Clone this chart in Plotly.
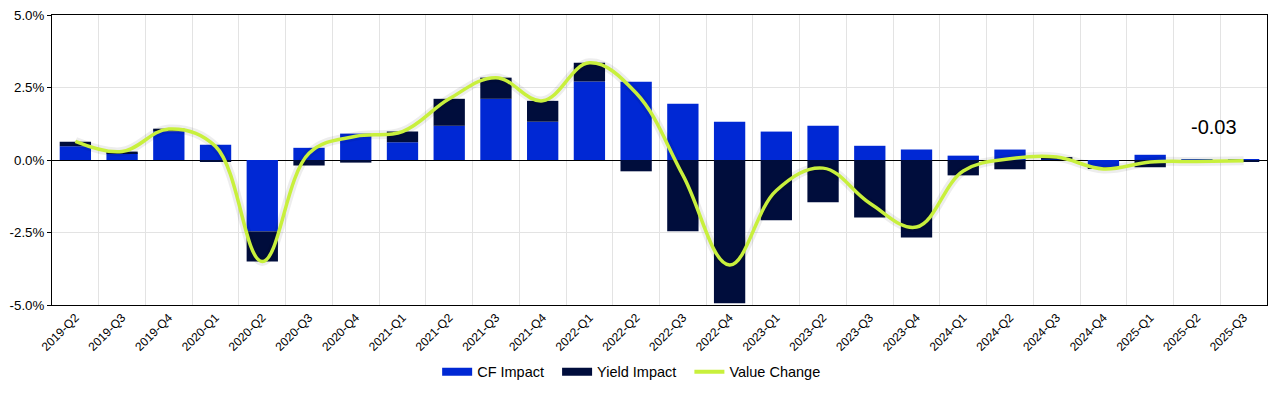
import plotly.graph_objects as go

quarters = ["2019-Q2", "2019-Q3", "2019-Q4", "2020-Q1", "2020-Q2", "2020-Q3", "2020-Q4",
            "2021-Q1", "2021-Q2", "2021-Q3", "2021-Q4", "2022-Q1", "2022-Q2", "2022-Q3",
            "2022-Q4", "2023-Q1", "2023-Q2", "2023-Q3", "2023-Q4", "2024-Q1", "2024-Q2",
            "2024-Q3", "2024-Q4", "2025-Q1", "2025-Q2", "2025-Q3"]
cf_impact = [0.47, 0.23, 0.99, 0.53, -2.46, 0.42, 0.91, 0.61, 1.18, 2.11, 1.32, 2.71, 2.70,
             1.94, 1.32, 0.98, 1.18, 0.49, 0.36, 0.15, 0.36, 0.02, -0.27, 0.18, 0.01, 0.01]
yield_impact = [0.16, 0.06, 0.09, -0.06, -1.04, -0.19, -0.09, 0.37, 0.93, 0.73, 0.72, 0.64, -0.39,
                -2.46, -4.94, -2.08, -1.46, -1.98, -2.67, -0.53, -0.32, 0.08, -0.04, -0.25, -0.06, -0.04]
value_change = [0.64, 0.29, 1.07, 0.47, -3.50, 0.23, 0.82, 0.98, 2.11, 2.84, 2.04, 3.35, 2.31,
                -0.52, -3.62, -1.05, -0.28, -1.49, -2.31, -0.38, 0.04, 0.10, -0.31, -0.07, -0.05, -0.03]
y_ticks = [-5.0, -2.5, 0.0, 2.5, 5.0]
y_tick_text = ["-5.0%", "-2.5%", "0.0%", "2.5%", "5.0%"]
last_label = "-0.03"

FONT = "Liberation Sans, Arial, sans-serif"
BLUE = "#0028D4"
NAVY = "#000D3C"
LIME = "#C8F03C"

fig = go.Figure()
fig.add_trace(go.Bar(x=quarters, y=cf_impact, name="CF Impact", showlegend=False,
                     marker=dict(color=BLUE, line=dict(width=0))))
fig.add_trace(go.Bar(x=quarters, y=yield_impact, name="Yield Impact", showlegend=False,
                     marker=dict(color=NAVY, line=dict(width=0))))
# soft shadow under the line
fig.add_trace(go.Scatter(x=quarters, y=value_change, mode="lines", showlegend=False,
                         hoverinfo="skip",
                         line=dict(color="rgba(0,0,0,0.07)", width=9, shape="spline", smoothing=1.1)))
fig.add_trace(go.Scatter(x=quarters, y=value_change, mode="lines", name="Value Change",
                         showlegend=False,
                         line=dict(color=LIME, width=3.5, shape="spline", smoothing=1.1)))

# legend entries (wide rectangle symbols like the reference)
fig.add_trace(go.Scatter(x=[None], y=[None], mode="lines", name="CF Impact\u00a0\u00a0",
                         line=dict(color=BLUE, width=8)))
fig.add_trace(go.Scatter(x=[None], y=[None], mode="lines", name="Yield Impact\u00a0\u00a0",
                         line=dict(color=NAVY, width=8)))
fig.add_trace(go.Scatter(x=[None], y=[None], mode="lines", name="Value Change",
                         line=dict(color=LIME, width=4)))

fig.add_annotation(x=0.956, y=0.614, xref="paper", yref="paper", text=last_label,
                   xanchor="center", yanchor="middle",
                   showarrow=False, font=dict(family=FONT, size=20, color="#000000"))

fig.update_layout(
    width=1283, height=394,
    margin=dict(l=52, r=16, t=15, b=89, autoexpand=False),
    barmode="relative", bargap=0.33,
    plot_bgcolor="white", paper_bgcolor="white",
    font=dict(family=FONT, size=13, color="#000000"),
    legend=dict(orientation="h", x=0.317, xanchor="left", y=-0.23, yanchor="middle",
                font=dict(family=FONT, size=14.5), traceorder="normal"),
)
fig.update_xaxes(type="category", tickson="boundaries", showgrid=True, gridcolor="#E3E3E3",
                 gridwidth=1, tickangle=-45, ticks="", tickfont=dict(size=12),
                 automargin=False,
                 showline=True, linecolor="#000000", linewidth=1, mirror=True)
fig.update_yaxes(range=[-5, 5], tickvals=y_ticks, ticktext=y_tick_text,
                 showgrid=True, gridcolor="#E3E3E3", gridwidth=1,
                 zeroline=True, zerolinecolor="#000000", zerolinewidth=1,
                 ticks="outside", ticklen=4, tickcolor="#000000", automargin=False,
                 showline=True, linecolor="#000000", linewidth=1, mirror=True,
                 tickfont=dict(size=13.3))

fig.write_html("out.html", config={"displayModeBar": False},
               post_script="document.body.style.margin='0';")
